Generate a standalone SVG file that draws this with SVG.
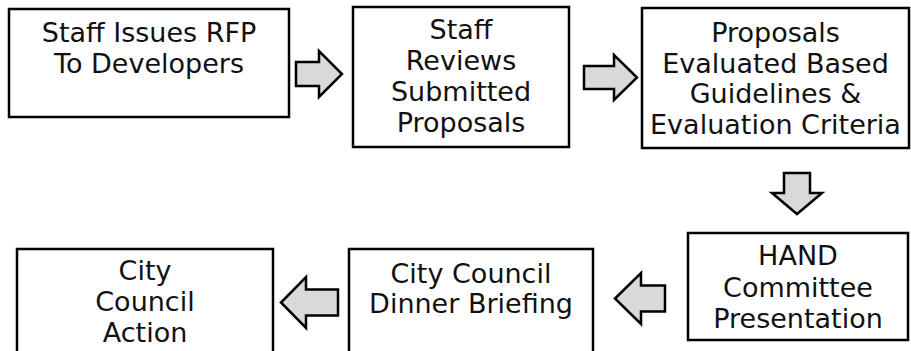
<svg xmlns="http://www.w3.org/2000/svg" width="911" height="351" viewBox="0 0 911 351">
<style>
.box{fill:#ffffff;stroke:#000000;stroke-width:2.5}
.arr{fill:#d9d9d9;stroke:#000000;stroke-width:2.5;stroke-linejoin:miter}
text{font-family:"DejaVu Sans","Verdana",sans-serif;font-size:27px;fill:#111111;text-anchor:middle}
</style>
<rect width="911" height="351" fill="#ffffff"/>
<g id="node-rfp">
<rect class="box" x="9" y="9" width="280" height="108"/>
<text x="149" y="42">Staff Issues RFP</text>
<text x="149" y="73">To Developers</text>
</g>
<g id="node-review">
<rect class="box" x="353" y="7" width="216" height="140"/>
<text x="461" y="39">Staff</text>
<text x="461" y="70">Reviews</text>
<text x="461" y="101">Submitted</text>
<text x="461" y="132">Proposals</text>
</g>
<g id="node-evaluate">
<rect class="box" x="642" y="8" width="267" height="140"/>
<text x="775.5" y="42">Proposals</text>
<text x="775.5" y="72.5">Evaluated Based</text>
<text x="775.5" y="103">Guidelines &amp;</text>
<text x="775.5" y="133.5">Evaluation Criteria</text>
</g>
<g id="node-hand">
<rect class="box" x="688" y="233" width="220" height="107"/>
<text x="798" y="265">HAND</text>
<text x="798" y="297">Committee</text>
<text x="798" y="328">Presentation</text>
</g>
<g id="node-briefing">
<rect class="box" x="349" y="249" width="244" height="115"/>
<text x="471" y="283">City Council</text>
<text x="471" y="313">Dinner Briefing</text>
</g>
<g id="node-action">
<rect class="box" x="17" y="249" width="256" height="115"/>
<text x="145" y="280">City</text>
<text x="145" y="311">Council</text>
<text x="145" y="342">Action</text>
</g>
<g id="connectors">
<polygon class="arr" points="296,62 319,62 319,51 342,74 319,97 319,86 296,86"/>
<polygon class="arr" points="584,66 614,66 614,55 637,77.5 614,100 614,89 584,89"/>
<polygon class="arr" points="784,173 810,173 810,193 822,193 797,214 772,193 784,193"/>
<polygon class="arr" points="665,285.5 641,285.5 641,273 615,298.5 641,324 641,311.5 665,311.5"/>
<polygon class="arr" points="338,289.5 306,289.5 306,277 281,302.5 306,328 306,315.5 338,315.5"/>
</g>
</svg>
